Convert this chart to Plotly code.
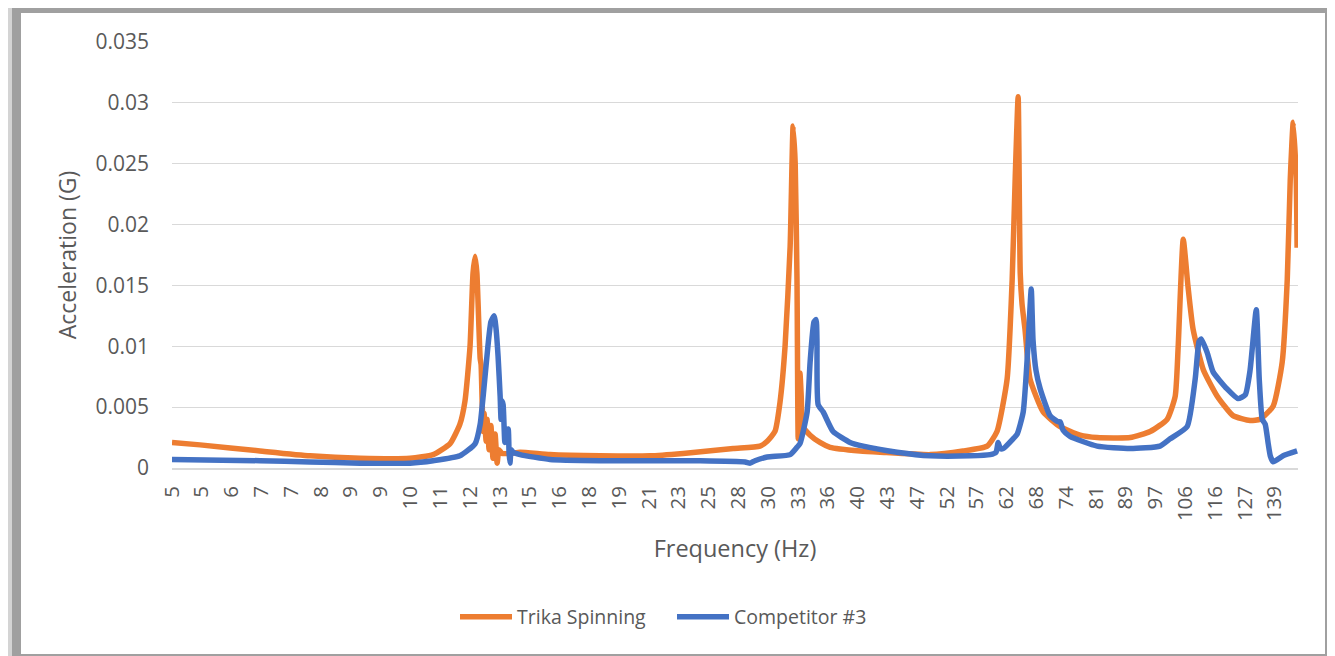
import plotly.graph_objects as go

# Frequency tick labels (Hz) along the sweep, one per label step
freq_labels = ["5", "5", "6", "7", "7", "8", "9", "9", "10", "11", "12", "13", "15",
               "16", "18", "19", "21", "23", "25", "28", "30", "33", "36", "40", "43",
               "47", "52", "57", "62", "68", "74", "81", "89", "97", "106", "116", "127", "139"]

y_tick_vals = [0, 0.005, 0.01, 0.015, 0.02, 0.025, 0.03, 0.035]
y_tick_text = ["0", "0.005", "0.01", "0.015", "0.02", "0.025", "0.03", "0.035"]

# Trika Spinning: position along sweep (label steps) and acceleration (G)
trika_pos = [0, 0.94, 2.95, 4.63, 6.31, 7.99, 8.76, 9.33, 9.66, 9.83, 10.00, 10.10, 10.17,
             10.23, 10.34, 10.37, 10.40, 10.44, 10.47, 10.54, 10.57, 10.64, 10.70, 10.77,
             10.84, 10.91, 10.97, 11.07, 11.34, 11.68, 12.68, 14.36, 16.04, 17.15, 18.83,
             19.73, 19.97, 20.23, 20.40, 20.57, 20.74, 20.84, 20.91, 20.97, 21.01, 21.07,
             21.11, 21.17, 21.41, 21.74, 22.08, 23.09, 23.76, 25.44, 26.54, 27.35, 27.68,
             28.02, 28.19, 28.29, 28.39, 28.46, 28.52, 28.62, 28.79, 29.23, 29.80, 30.47,
             31.04, 32.15, 32.82, 33.39, 33.66, 33.76, 33.93, 34.09, 34.26, 34.60, 35.07,
             35.60, 36.17, 36.51, 36.95, 37.25, 37.42, 37.52, 37.62, 37.72, 37.75]
trika_acc = [0.0021, 0.0019, 0.0014, 0.0010, 0.0008, 0.0008, 0.0011, 0.0020, 0.0036, 0.0055,
             0.0100, 0.0160, 0.0174, 0.0160, 0.0090, 0.0085, 0.0060, 0.0030, 0.0045, 0.0022,
             0.0040, 0.0015, 0.0035, 0.0008, 0.0028, 0.0004, 0.0015, 0.0012, 0.0012, 0.0013,
             0.0011, 0.0010, 0.0010, 0.0012, 0.0016, 0.0018, 0.0022, 0.0030, 0.0054, 0.0100,
             0.0182, 0.0281, 0.0250, 0.0155, 0.0024, 0.0078, 0.0060, 0.0034, 0.0027, 0.0021,
             0.0017, 0.0014, 0.0013, 0.0011, 0.0014, 0.0018, 0.0030, 0.0073, 0.0155, 0.0237,
             0.0305, 0.0160, 0.0135, 0.0114, 0.0073, 0.0046, 0.0034, 0.0027, 0.0025, 0.0025,
             0.0030, 0.0040, 0.0059, 0.0100, 0.0188, 0.0149, 0.0114, 0.0081, 0.0059, 0.0043,
             0.0039, 0.0040, 0.0051, 0.0087, 0.0155, 0.0237, 0.0284, 0.0237, 0.0181]

# Competitor #3
comp_pos = [0, 2.95, 4.63, 6.31, 7.99, 8.76, 9.66, 10.17, 10.34, 10.44, 10.60, 10.70, 10.81,
            10.87, 10.94, 11.01, 11.04, 11.07, 11.11, 11.17, 11.24, 11.28, 11.31, 11.34,
            11.38, 11.44, 11.68, 12.68, 14.36, 16.04, 17.72, 19.23, 19.40, 19.56, 19.97,
            20.74, 20.97, 21.07, 21.31, 21.41, 21.54, 21.61, 21.64, 21.68, 21.85, 22.18,
            22.75, 23.19, 24.33, 25.44, 26.78, 27.45, 27.65, 27.72, 27.79, 27.89, 28.22,
            28.36, 28.56, 28.72, 28.83, 28.89, 28.99, 29.13, 29.46, 29.73, 29.80, 29.90,
            30.13, 31.04, 32.15, 33.15, 33.49, 34.06, 34.33, 34.46, 34.53, 34.73, 34.93,
            35.40, 35.77, 36.01, 36.17, 36.38, 36.48, 36.58, 36.68, 36.78, 36.85, 36.95,
            37.28, 37.75]
comp_acc = [0.0007, 0.0006, 0.0005, 0.0004, 0.0004, 0.0006, 0.0010, 0.0020, 0.0036, 0.0059,
            0.0100, 0.0120, 0.0125, 0.0115, 0.0092, 0.0059, 0.0040, 0.0055, 0.0052, 0.0021,
            0.0030, 0.0032, 0.0012, 0.0004, 0.0015, 0.0013, 0.0011, 0.0007, 0.0006, 0.0006,
            0.0006, 0.0005, 0.0004, 0.0006, 0.0009, 0.0011, 0.0017, 0.0020, 0.0046, 0.0087,
            0.0120, 0.0122, 0.0105, 0.0052, 0.0046, 0.0030, 0.0021, 0.0018, 0.0013, 0.0010,
            0.0010, 0.0011, 0.0013, 0.0021, 0.0016, 0.0016, 0.0024, 0.0028, 0.0046, 0.0100,
            0.0147, 0.0105, 0.0080, 0.0065, 0.0043, 0.0038, 0.0038, 0.0031, 0.0026, 0.0018,
            0.0016, 0.0018, 0.0024, 0.0034, 0.0073, 0.0104, 0.0106, 0.0095, 0.0079, 0.0065,
            0.0057, 0.0060, 0.0080, 0.0130, 0.0073, 0.0040, 0.0036, 0.0020, 0.0010, 0.0005,
            0.0010, 0.0014]

FONT = "Open Sans"
GREY = "#595959"

fig = go.Figure()
fig.add_trace(go.Scatter(x=trika_pos, y=trika_acc, mode="lines", name="Trika Spinning",
                         line=dict(color="#ED7D31", width=5.5, shape="spline", smoothing=0.5)))
fig.add_trace(go.Scatter(x=comp_pos, y=comp_acc, mode="lines", name="Competitor #3",
                         line=dict(color="#4472C4", width=5.5, shape="spline", smoothing=0.5)))

# page body has an 8px offset; figure occupies the rest of the window
OFF = 8
W, H = 1335 - OFF, 656 - OFF
L, R, T, B = 172 - OFF, 37, 42 - OFF, 188
pw, ph = W - L - R, H - T - B


def px2x(p):
    return (p - OFF - L) / pw


def py2y(p):
    return (H - B - (p - OFF)) / ph


fig.add_shape(type="rect", xref="paper", yref="paper", layer="below",
              x0=px2x(12), x1=px2x(1331), y0=py2y(700), y1=py2y(6),
              fillcolor="#a0a0a0", line=dict(width=0))
fig.add_shape(type="rect", xref="paper", yref="paper", layer="below",
              x0=px2x(21), x1=px2x(1325), y0=py2y(654), y1=py2y(13),
              fillcolor="white", line=dict(width=0))

fig.update_layout(
    width=W, height=H,
    margin=dict(l=L, r=R, t=T, b=B),
    paper_bgcolor="#d4d4d4",
    plot_bgcolor="rgba(0,0,0,0)",
    font=dict(family=FONT, color=GREY, size=20),
    showlegend=True,
    legend=dict(orientation="h", xref="container", yref="container",
                x=(672 - OFF) / W, xanchor="center", y=1 - (617 - OFF) / H, yanchor="middle",
                font=dict(size=19.5, color=GREY), bgcolor="rgba(0,0,0,0)",
                itemwidth=52, entrywidth=150, entrywidthmode="pixels", tracegroupgap=0),
    xaxis=dict(range=[0, 37.78], tickmode="array",
               tickvals=list(range(len(freq_labels))), ticktext=freq_labels,
               tickangle=-90, showgrid=False, ticks="",
               showline=True, linecolor="#d9d9d9", linewidth=1.5,
               zeroline=False, tickfont=dict(size=20.5, color=GREY),
               ticklabelstandoff=8,
               title=dict(text="Frequency (Hz)", font=dict(size=23.5, color=GREY), standoff=20)),
    yaxis=dict(range=[0, 0.035], tickmode="array", tickvals=y_tick_vals, ticktext=y_tick_text,
               showgrid=True, gridcolor="#d9d9d9", gridwidth=1.3, zeroline=False,
               ticks="", ticklabelstandoff=22, tickfont=dict(size=21, color=GREY),
               title=dict(text="Acceleration (G)", font=dict(size=23, color=GREY), standoff=12)),
)

fig.write_html("out.html")
